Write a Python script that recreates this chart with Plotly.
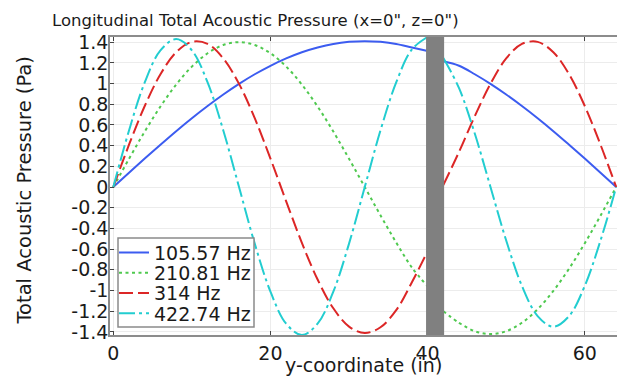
import plotly.graph_objects as go

# ---- data ----
x_left = [0, 2, 4, 6, 8, 10, 12, 14, 16, 18, 20, 22, 24, 26, 28, 30, 32, 34, 36, 38, 40]
x_right = [42, 44, 46, 48, 50, 52, 54, 56, 58, 60, 62, 64]

blue_left = [0, 0.138, 0.275, 0.409, 0.540, 0.665, 0.783, 0.894, 0.997, 1.090, 1.172,
             1.243, 1.303, 1.349, 1.383, 1.403, 1.410, 1.403, 1.383, 1.349, 1.315]
blue_right = [1.215, 1.172, 1.090, 0.997, 0.894, 0.783, 0.665, 0.540, 0.409, 0.275, 0.138, 0]

green_left = [0, 0.273, 0.536, 0.778, 0.990, 1.164, 1.293, 1.373, 1.400, 1.373, 1.293,
              1.164, 0.990, 0.778, 0.536, 0.273, 0, -0.273, -0.536, -0.778, -0.960]
green_right = [-1.200, -1.312, -1.393, -1.420, -1.393, -1.312, -1.181, -1.004, -0.789, -0.543, -0.277, 0]

red_left = [0, 0.409, 0.783, 1.090, 1.303, 1.403, 1.383, 1.243, 0.997, 0.665, 0.275,
            -0.138, -0.540, -0.894, -1.172, -1.349, -1.410, -1.355, -1.190, -0.920, -0.620]
red_right = [0.020, 0.340, 0.685, 0.997, 1.243, 1.383, 1.403, 1.303, 1.090, 0.783, 0.409, 0]

cyan_left = [0, 0.547, 1.011, 1.321, 1.430, 1.321, 1.011, 0.547, 0, -0.547, -1.011,
             -1.321, -1.430, -1.321, -1.011, -0.547, 0, 0.547, 1.011, 1.330, 1.450]
cyan_right = [1.247, 0.955, 0.517, 0, -0.517, -0.955, -1.247, -1.350, -1.247, -0.955, -0.517, 0]

series_names = ["105.57 Hz", "210.81 Hz", "314 Hz", "422.74 Hz"]
obstacle = [39.8, 42.1]

y_tickvals = [1.4, 1.2, 1.0, 0.8, 0.6, 0.4, 0.2, 0, -0.2, -0.4, -0.6, -0.8, -1.0, -1.2, -1.4]
y_ticktext = ["1.4", "1.2", "1", "0.8", "0.6", "0.4", "0.2", "0", "-0.2", "-0.4", "-0.6",
              "-0.8", "-1", "-1.2", "-1.4"]
x_tickvals = [0, 20, 40, 60]
x_ticktext = ["0", "20", "40", "60"]

# ---- styles ----
colors = ["#3c5cf0", "#4fc94f", "#dc2626", "#22cdd0"]
dashes = ["solid", "3px,3.5px", "14px,5px", "16px,4px,3px,4px"]
lefts = [blue_left, green_left, red_left, cyan_left]
rights = [blue_right, green_right, red_right, cyan_right]
legend_ids = ["legend", "legend2", "legend3", "legend4"]

FONT = "DejaVu Sans"
TXT = "#1a1a1a"
W, H = 617, 378
L, T, B = 110, 37, 43
pw = W - L
ph = H - T - B

def px_x(px):
    return (px - L) / pw

def px_y(py):
    return (H - B - py) / ph

fig = go.Figure()
for name, c, d, yl, yr, lg in zip(series_names, colors, dashes, lefts, rights, legend_ids):
    fig.add_trace(go.Scatter(x=x_left, y=yl, mode="lines", name=name, legendgroup=name,
                             legend=lg,
                             line=dict(color=c, width=2, dash=d, shape="spline", smoothing=1.0)))
    fig.add_trace(go.Scatter(x=x_right, y=yr, mode="lines", name=name, legendgroup=name,
                             showlegend=False, legend=lg,
                             line=dict(color=c, width=2, dash=d, shape="spline", smoothing=1.0)))

# obstacle bar
fig.add_shape(type="rect", xref="x", yref="paper", x0=obstacle[0], x1=obstacle[1], y0=0, y1=1,
              fillcolor="#808080", line_width=0, layer="above")
# legend frame
fig.add_shape(type="rect", xref="paper", yref="paper", x0=px_x(118), x1=px_x(254),
              y0=px_y(327), y1=px_y(238), fillcolor="white",
              line=dict(color="#8a8a8a", width=1.5), layer="above")

legend_rows = [252.7, 272.9, 293.1, 313.3]
legend_layouts = {}
for lg, row in zip(legend_ids, legend_rows):
    legend_layouts[lg] = dict(x=px_x(114), y=px_y(row), xanchor="left", yanchor="middle",
                              bgcolor="rgba(0,0,0,0)", borderwidth=0,
                              font=dict(family=FONT, size=19, color=TXT),
                              itemwidth=30, tracegroupgap=0)

fig.update_layout(
    width=W, height=H,
    margin=dict(l=L, r=0, t=T, b=B),
    paper_bgcolor="white", plot_bgcolor="white",
    font=dict(family=FONT, size=19, color=TXT),
    title=dict(text='Longitudinal Total Acoustic Pressure (x=0", z=0")',
               font=dict(family=FONT, size=16.5, color=TXT),
               xref="container", yref="container", x=52 / W, xanchor="left",
               y=1 - 20 / H, yanchor="middle"),
    showlegend=True,
    xaxis=dict(range=[-0.42, 64.1], tickvals=x_tickvals, ticktext=x_ticktext,
               showgrid=True, gridcolor="#ececec", gridwidth=1,
               ticks="inside", ticklen=4, tickcolor="#444", mirror="ticks",
               showline=True, linecolor="#8c8c8c", linewidth=1.5, zeroline=False,
               tickfont=dict(family=FONT, size=19, color=TXT)),
    yaxis=dict(range=[-1.43, 1.45], tickvals=y_tickvals, ticktext=y_ticktext,
               showgrid=True, gridcolor="#ececec", gridwidth=1,
               ticks="inside", ticklen=4, tickcolor="#444",
               showline=True, linecolor="#8c8c8c", linewidth=1.5, zeroline=False,
               tickfont=dict(family=FONT, size=19, color=TXT), ticklabelstandoff=-4),
    annotations=[
        dict(text="Total Acoustic Pressure (Pa)", xref="paper", yref="paper",
             x=px_x(24), y=px_y(190.5), textangle=-90, showarrow=False,
             xanchor="center", yanchor="middle", font=dict(family=FONT, size=19.5, color=TXT)),
        dict(text="y-coordinate (in)", xref="paper", yref="paper",
             x=0.5, y=px_y(378), showarrow=False,
             xanchor="center", yanchor="bottom", font=dict(family=FONT, size=19, color=TXT)),
    ],
    **legend_layouts,
)

fig.write_html("out.html")
